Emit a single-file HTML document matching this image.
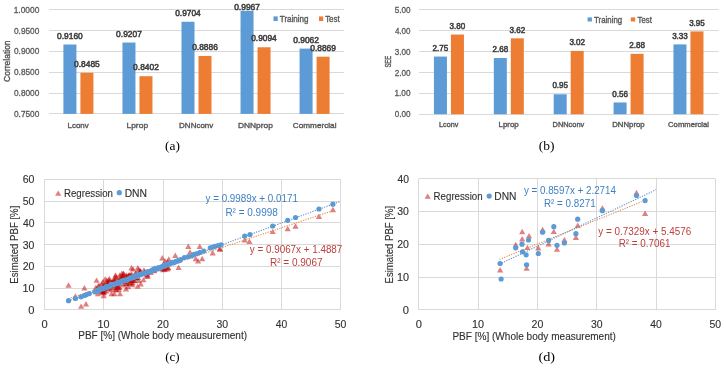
<!DOCTYPE html>
<html><head><meta charset="utf-8"><style>
html,body{margin:0;padding:0;background:#fff;width:726px;height:369px;overflow:hidden}
svg{display:block;will-change:transform}
</style></head><body>
<svg width="726" height="369" viewBox="0 0 726 369">
<defs><filter id="soft" x="0" y="0" width="100%" height="100%"><feGaussianBlur stdDeviation="0.45"/></filter></defs>
<rect width="726" height="369" fill="#fff"/>
<g filter="url(#soft)">
<rect width="726" height="369" fill="#fff"/>
<line x1="48.90" y1="9.50" x2="344.10" y2="9.50" stroke="#D9D9D9" stroke-width="1" />
<line x1="48.90" y1="30.50" x2="344.10" y2="30.50" stroke="#D9D9D9" stroke-width="1" />
<line x1="48.90" y1="51.50" x2="344.10" y2="51.50" stroke="#D9D9D9" stroke-width="1" />
<line x1="48.90" y1="72.50" x2="344.10" y2="72.50" stroke="#D9D9D9" stroke-width="1" />
<line x1="48.90" y1="93.50" x2="344.10" y2="93.50" stroke="#D9D9D9" stroke-width="1" />
<line x1="48.90" y1="113.50" x2="344.10" y2="113.50" stroke="#D9D9D9" stroke-width="1" />
<rect x="63.42" y="44.51" width="13.00" height="69.39" fill="#5B9BD5"/>
<rect x="80.42" y="72.73" width="13.00" height="41.17" fill="#ED7D31"/>
<rect x="122.46" y="42.55" width="13.00" height="71.35" fill="#5B9BD5"/>
<rect x="139.46" y="76.20" width="13.00" height="37.70" fill="#ED7D31"/>
<rect x="181.50" y="21.77" width="13.00" height="92.13" fill="#5B9BD5"/>
<rect x="198.50" y="55.97" width="13.00" height="57.93" fill="#ED7D31"/>
<rect x="240.54" y="10.78" width="13.00" height="103.12" fill="#5B9BD5"/>
<rect x="257.54" y="47.27" width="13.00" height="66.63" fill="#ED7D31"/>
<rect x="299.58" y="48.61" width="13.00" height="65.29" fill="#5B9BD5"/>
<rect x="316.58" y="56.68" width="13.00" height="57.22" fill="#ED7D31"/>
<text x="13.67" y="12.65" font-family="Liberation Sans" font-size="9.00" fill="#595959" textLength="25.65" lengthAdjust="spacingAndGlyphs"  stroke="#595959" stroke-width="0.3">1.0000</text>
<text x="13.97" y="33.55" font-family="Liberation Sans" font-size="9.00" fill="#595959" textLength="25.35" lengthAdjust="spacingAndGlyphs"  stroke="#595959" stroke-width="0.3">0.9500</text>
<text x="13.97" y="54.45" font-family="Liberation Sans" font-size="9.00" fill="#595959" textLength="25.35" lengthAdjust="spacingAndGlyphs"  stroke="#595959" stroke-width="0.3">0.9000</text>
<text x="13.97" y="75.35" font-family="Liberation Sans" font-size="9.00" fill="#595959" textLength="25.35" lengthAdjust="spacingAndGlyphs"  stroke="#595959" stroke-width="0.3">0.8500</text>
<text x="13.97" y="96.25" font-family="Liberation Sans" font-size="9.00" fill="#595959" textLength="25.35" lengthAdjust="spacingAndGlyphs"  stroke="#595959" stroke-width="0.3">0.8000</text>
<text x="13.97" y="117.15" font-family="Liberation Sans" font-size="9.00" fill="#595959" textLength="25.35" lengthAdjust="spacingAndGlyphs"  stroke="#595959" stroke-width="0.3">0.7500</text>
<text x="67.54" y="128.33" font-family="Liberation Sans" font-size="7.80" fill="#595959" textLength="21.16" lengthAdjust="spacingAndGlyphs"  stroke="#595959" stroke-width="0.38">Lconv</text>
<text x="126.48" y="128.33" font-family="Liberation Sans" font-size="7.80" fill="#595959" textLength="21.64" lengthAdjust="spacingAndGlyphs"  stroke="#595959" stroke-width="0.38">Lprop</text>
<text x="179.11" y="128.33" font-family="Liberation Sans" font-size="7.80" fill="#595959" textLength="34.17" lengthAdjust="spacingAndGlyphs"  stroke="#595959" stroke-width="0.38">DNNconv</text>
<text x="237.97" y="128.33" font-family="Liberation Sans" font-size="7.80" fill="#595959" textLength="34.83" lengthAdjust="spacingAndGlyphs"  stroke="#595959" stroke-width="0.38">DNNprop</text>
<text x="292.82" y="128.33" font-family="Liberation Sans" font-size="7.80" fill="#595959" textLength="43.68" lengthAdjust="spacingAndGlyphs"  stroke="#595959" stroke-width="0.38">Commercial</text>
<text x="57.08" y="38.69" font-family="Liberation Sans" font-size="8.80" fill="#404040" textLength="25.66" lengthAdjust="spacingAndGlyphs"  stroke="#404040" stroke-width="0.55">0.9160</text>
<text x="74.08" y="66.91" font-family="Liberation Sans" font-size="8.80" fill="#404040" textLength="25.66" lengthAdjust="spacingAndGlyphs"  stroke="#404040" stroke-width="0.55">0.8485</text>
<text x="116.12" y="36.73" font-family="Liberation Sans" font-size="8.80" fill="#404040" textLength="25.75" lengthAdjust="spacingAndGlyphs"  stroke="#404040" stroke-width="0.55">0.9207</text>
<text x="133.12" y="70.38" font-family="Liberation Sans" font-size="8.80" fill="#404040" textLength="25.75" lengthAdjust="spacingAndGlyphs"  stroke="#404040" stroke-width="0.55">0.8402</text>
<text x="175.17" y="15.95" font-family="Liberation Sans" font-size="8.80" fill="#404040" textLength="25.57" lengthAdjust="spacingAndGlyphs"  stroke="#404040" stroke-width="0.55">0.9704</text>
<text x="192.16" y="50.15" font-family="Liberation Sans" font-size="8.80" fill="#404040" textLength="25.70" lengthAdjust="spacingAndGlyphs"  stroke="#404040" stroke-width="0.55">0.8886</text>
<text x="234.20" y="9.78" font-family="Liberation Sans" font-size="8.80" fill="#404040" textLength="25.75" lengthAdjust="spacingAndGlyphs"  stroke="#404040" stroke-width="0.55">0.9967</text>
<text x="251.21" y="41.45" font-family="Liberation Sans" font-size="8.80" fill="#404040" textLength="25.57" lengthAdjust="spacingAndGlyphs"  stroke="#404040" stroke-width="0.55">0.9094</text>
<text x="293.24" y="42.79" font-family="Liberation Sans" font-size="8.80" fill="#404040" textLength="25.75" lengthAdjust="spacingAndGlyphs"  stroke="#404040" stroke-width="0.55">0.9062</text>
<text x="310.24" y="50.86" font-family="Liberation Sans" font-size="8.80" fill="#404040" textLength="25.70" lengthAdjust="spacingAndGlyphs"  stroke="#404040" stroke-width="0.55">0.8869</text>
<rect x="273.50" y="16.40" width="4.20" height="4.60" fill="#5B9BD5"/>
<text x="279.80" y="21.87" font-family="Liberation Sans" font-size="8.20" fill="#595959" textLength="28.73" lengthAdjust="spacingAndGlyphs"  stroke="#595959" stroke-width="0.35">Training</text>
<rect x="319.00" y="16.40" width="4.20" height="4.60" fill="#ED7D31"/>
<text x="325.20" y="21.87" font-family="Liberation Sans" font-size="8.20" fill="#595959" textLength="14.37" lengthAdjust="spacingAndGlyphs"  stroke="#595959" stroke-width="0.35">Test</text>
<text transform="translate(9.73,81.92) rotate(-90)" x="0" y="0" font-family="Liberation Sans" font-size="8.80" fill="#595959" font-weight="normal" textLength="41.49" lengthAdjust="spacingAndGlyphs" stroke="#595959" stroke-width="0.4">Correlation</text>
<text x="165.00" y="150.24" font-family="Liberation Serif" font-size="12.40" fill="#000000" textLength="14.91" lengthAdjust="spacingAndGlyphs" >(a)</text>
<line x1="419.00" y1="9.50" x2="718.40" y2="9.50" stroke="#D9D9D9" stroke-width="1" />
<line x1="419.00" y1="30.50" x2="718.40" y2="30.50" stroke="#D9D9D9" stroke-width="1" />
<line x1="419.00" y1="51.50" x2="718.40" y2="51.50" stroke="#D9D9D9" stroke-width="1" />
<line x1="419.00" y1="72.50" x2="718.40" y2="72.50" stroke="#D9D9D9" stroke-width="1" />
<line x1="419.00" y1="93.50" x2="718.40" y2="93.50" stroke="#D9D9D9" stroke-width="1" />
<line x1="419.00" y1="114.50" x2="718.40" y2="114.50" stroke="#D9D9D9" stroke-width="1" />
<rect x="433.94" y="56.56" width="13.00" height="57.64" fill="#5B9BD5"/>
<rect x="450.94" y="34.55" width="13.00" height="79.65" fill="#ED7D31"/>
<rect x="493.82" y="58.03" width="13.00" height="56.17" fill="#5B9BD5"/>
<rect x="510.82" y="38.32" width="13.00" height="75.88" fill="#ED7D31"/>
<rect x="553.70" y="94.29" width="13.00" height="19.91" fill="#5B9BD5"/>
<rect x="570.70" y="50.90" width="13.00" height="63.30" fill="#ED7D31"/>
<rect x="613.58" y="102.46" width="13.00" height="11.74" fill="#5B9BD5"/>
<rect x="630.58" y="53.84" width="13.00" height="60.36" fill="#ED7D31"/>
<rect x="673.46" y="44.40" width="13.00" height="69.80" fill="#5B9BD5"/>
<rect x="690.46" y="31.41" width="13.00" height="82.79" fill="#ED7D31"/>
<text x="394.78" y="12.65" font-family="Liberation Sans" font-size="9.00" fill="#595959" textLength="15.76" lengthAdjust="spacingAndGlyphs"  stroke="#595959" stroke-width="0.3">5.00</text>
<text x="394.90" y="33.61" font-family="Liberation Sans" font-size="9.00" fill="#595959" textLength="15.63" lengthAdjust="spacingAndGlyphs"  stroke="#595959" stroke-width="0.3">4.00</text>
<text x="394.78" y="54.57" font-family="Liberation Sans" font-size="9.00" fill="#595959" textLength="15.76" lengthAdjust="spacingAndGlyphs"  stroke="#595959" stroke-width="0.3">3.00</text>
<text x="394.69" y="75.53" font-family="Liberation Sans" font-size="9.00" fill="#595959" textLength="15.84" lengthAdjust="spacingAndGlyphs"  stroke="#595959" stroke-width="0.3">2.00</text>
<text x="394.48" y="96.49" font-family="Liberation Sans" font-size="9.00" fill="#595959" textLength="16.06" lengthAdjust="spacingAndGlyphs"  stroke="#595959" stroke-width="0.3">1.00</text>
<text x="394.78" y="117.45" font-family="Liberation Sans" font-size="9.00" fill="#595959" textLength="15.76" lengthAdjust="spacingAndGlyphs"  stroke="#595959" stroke-width="0.3">0.00</text>
<text x="439.01" y="127.19" font-family="Liberation Sans" font-size="7.25" fill="#595959" textLength="19.30" lengthAdjust="spacingAndGlyphs"  stroke="#595959" stroke-width="0.38">Lconv</text>
<text x="498.59" y="127.19" font-family="Liberation Sans" font-size="7.25" fill="#595959" textLength="20.17" lengthAdjust="spacingAndGlyphs"  stroke="#595959" stroke-width="0.38">Lprop</text>
<text x="552.56" y="127.19" font-family="Liberation Sans" font-size="7.25" fill="#595959" textLength="31.72" lengthAdjust="spacingAndGlyphs"  stroke="#595959" stroke-width="0.38">DNNconv</text>
<text x="612.26" y="127.19" font-family="Liberation Sans" font-size="7.25" fill="#595959" textLength="32.36" lengthAdjust="spacingAndGlyphs"  stroke="#595959" stroke-width="0.38">DNNprop</text>
<text x="668.08" y="127.19" font-family="Liberation Sans" font-size="7.25" fill="#595959" textLength="40.91" lengthAdjust="spacingAndGlyphs"  stroke="#595959" stroke-width="0.38">Commercial</text>
<text x="432.54" y="50.74" font-family="Liberation Sans" font-size="8.80" fill="#404040" textLength="15.74" lengthAdjust="spacingAndGlyphs"  stroke="#404040" stroke-width="0.55">2.75</text>
<text x="449.62" y="28.73" font-family="Liberation Sans" font-size="8.80" fill="#404040" textLength="15.65" lengthAdjust="spacingAndGlyphs"  stroke="#404040" stroke-width="0.55">3.80</text>
<text x="492.42" y="52.21" font-family="Liberation Sans" font-size="8.80" fill="#404040" textLength="15.74" lengthAdjust="spacingAndGlyphs"  stroke="#404040" stroke-width="0.55">2.68</text>
<text x="509.50" y="32.50" font-family="Liberation Sans" font-size="8.80" fill="#404040" textLength="15.74" lengthAdjust="spacingAndGlyphs"  stroke="#404040" stroke-width="0.55">3.62</text>
<text x="552.38" y="88.47" font-family="Liberation Sans" font-size="8.80" fill="#404040" textLength="15.65" lengthAdjust="spacingAndGlyphs"  stroke="#404040" stroke-width="0.55">0.95</text>
<text x="569.38" y="45.08" font-family="Liberation Sans" font-size="8.80" fill="#404040" textLength="15.74" lengthAdjust="spacingAndGlyphs"  stroke="#404040" stroke-width="0.55">3.02</text>
<text x="612.26" y="96.64" font-family="Liberation Sans" font-size="8.80" fill="#404040" textLength="15.70" lengthAdjust="spacingAndGlyphs"  stroke="#404040" stroke-width="0.55">0.56</text>
<text x="629.18" y="48.02" font-family="Liberation Sans" font-size="8.80" fill="#404040" textLength="15.74" lengthAdjust="spacingAndGlyphs"  stroke="#404040" stroke-width="0.55">2.88</text>
<text x="672.14" y="38.58" font-family="Liberation Sans" font-size="8.80" fill="#404040" textLength="15.70" lengthAdjust="spacingAndGlyphs"  stroke="#404040" stroke-width="0.55">3.33</text>
<text x="689.14" y="25.59" font-family="Liberation Sans" font-size="8.80" fill="#404040" textLength="15.65" lengthAdjust="spacingAndGlyphs"  stroke="#404040" stroke-width="0.55">3.95</text>
<rect x="587.60" y="17.40" width="4.30" height="4.10" fill="#5B9BD5"/>
<text x="594.10" y="22.67" font-family="Liberation Sans" font-size="8.20" fill="#595959" textLength="28.11" lengthAdjust="spacingAndGlyphs"  stroke="#595959" stroke-width="0.35">Training</text>
<rect x="630.80" y="17.40" width="4.40" height="4.10" fill="#ED7D31"/>
<text x="637.61" y="22.67" font-family="Liberation Sans" font-size="8.20" fill="#595959" textLength="14.26" lengthAdjust="spacingAndGlyphs"  stroke="#595959" stroke-width="0.35">Test</text>
<text transform="translate(391.33,67.57) rotate(-90)" x="0" y="0" font-family="Liberation Sans" font-size="8.80" fill="#595959" font-weight="normal" textLength="11.81" lengthAdjust="spacingAndGlyphs" stroke="#595959" stroke-width="0.4">SEE</text>
<text x="538.79" y="150.24" font-family="Liberation Serif" font-size="12.40" fill="#000000" textLength="15.76" lengthAdjust="spacingAndGlyphs" >(b)</text>
<line x1="44.60" y1="309.50" x2="340.60" y2="309.50" stroke="#D9D9D9" stroke-width="1" />
<line x1="44.60" y1="288.50" x2="340.60" y2="288.50" stroke="#D9D9D9" stroke-width="1" />
<line x1="44.60" y1="266.50" x2="340.60" y2="266.50" stroke="#D9D9D9" stroke-width="1" />
<line x1="44.60" y1="244.50" x2="340.60" y2="244.50" stroke="#D9D9D9" stroke-width="1" />
<line x1="44.60" y1="222.50" x2="340.60" y2="222.50" stroke="#D9D9D9" stroke-width="1" />
<line x1="44.60" y1="201.50" x2="340.60" y2="201.50" stroke="#D9D9D9" stroke-width="1" />
<line x1="44.60" y1="179.50" x2="340.60" y2="179.50" stroke="#D9D9D9" stroke-width="1" />
<line x1="44.50" y1="179.50" x2="44.50" y2="309.80" stroke="#D9D9D9" stroke-width="1" />
<line x1="103.50" y1="179.50" x2="103.50" y2="309.80" stroke="#D9D9D9" stroke-width="1" />
<line x1="163.50" y1="179.50" x2="163.50" y2="309.80" stroke="#D9D9D9" stroke-width="1" />
<line x1="222.50" y1="179.50" x2="222.50" y2="309.80" stroke="#D9D9D9" stroke-width="1" />
<line x1="281.50" y1="179.50" x2="281.50" y2="309.80" stroke="#D9D9D9" stroke-width="1" />
<line x1="340.50" y1="179.50" x2="340.50" y2="309.80" stroke="#D9D9D9" stroke-width="1" />
<line x1="418.90" y1="309.50" x2="715.30" y2="309.50" stroke="#D9D9D9" stroke-width="1" />
<line x1="418.90" y1="277.50" x2="715.30" y2="277.50" stroke="#D9D9D9" stroke-width="1" />
<line x1="418.90" y1="244.50" x2="715.30" y2="244.50" stroke="#D9D9D9" stroke-width="1" />
<line x1="418.90" y1="211.50" x2="715.30" y2="211.50" stroke="#D9D9D9" stroke-width="1" />
<line x1="418.90" y1="178.50" x2="715.30" y2="178.50" stroke="#D9D9D9" stroke-width="1" />
<line x1="418.50" y1="178.80" x2="418.50" y2="309.90" stroke="#D9D9D9" stroke-width="1" />
<line x1="478.50" y1="178.80" x2="478.50" y2="309.90" stroke="#D9D9D9" stroke-width="1" />
<line x1="537.50" y1="178.80" x2="537.50" y2="309.90" stroke="#D9D9D9" stroke-width="1" />
<line x1="596.50" y1="178.80" x2="596.50" y2="309.90" stroke="#D9D9D9" stroke-width="1" />
<line x1="656.50" y1="178.80" x2="656.50" y2="309.90" stroke="#D9D9D9" stroke-width="1" />
<line x1="715.50" y1="178.80" x2="715.50" y2="309.90" stroke="#D9D9D9" stroke-width="1" />
<text x="28.25" y="313.72" font-family="Liberation Sans" font-size="11.20" fill="#303030" textLength="6.21" lengthAdjust="spacingAndGlyphs"  stroke="#303030" stroke-width="0.12">0</text>
<text x="22.39" y="292.00" font-family="Liberation Sans" font-size="11.20" fill="#303030" textLength="12.07" lengthAdjust="spacingAndGlyphs"  stroke="#303030" stroke-width="0.12">10</text>
<text x="22.67" y="270.29" font-family="Liberation Sans" font-size="11.20" fill="#303030" textLength="11.78" lengthAdjust="spacingAndGlyphs"  stroke="#303030" stroke-width="0.12">20</text>
<text x="22.78" y="248.57" font-family="Liberation Sans" font-size="11.20" fill="#303030" textLength="11.66" lengthAdjust="spacingAndGlyphs"  stroke="#303030" stroke-width="0.12">30</text>
<text x="22.94" y="226.85" font-family="Liberation Sans" font-size="11.20" fill="#303030" textLength="11.50" lengthAdjust="spacingAndGlyphs"  stroke="#303030" stroke-width="0.12">40</text>
<text x="22.78" y="205.14" font-family="Liberation Sans" font-size="11.20" fill="#303030" textLength="11.66" lengthAdjust="spacingAndGlyphs"  stroke="#303030" stroke-width="0.12">50</text>
<text x="22.67" y="183.42" font-family="Liberation Sans" font-size="11.20" fill="#303030" textLength="11.78" lengthAdjust="spacingAndGlyphs"  stroke="#303030" stroke-width="0.12">60</text>
<text x="41.50" y="327.72" font-family="Liberation Sans" font-size="11.20" fill="#303030" textLength="6.21" lengthAdjust="spacingAndGlyphs"  stroke="#303030" stroke-width="0.12">0</text>
<text x="97.59" y="327.72" font-family="Liberation Sans" font-size="11.20" fill="#303030" textLength="12.07" lengthAdjust="spacingAndGlyphs"  stroke="#303030" stroke-width="0.12">10</text>
<text x="157.07" y="327.72" font-family="Liberation Sans" font-size="11.20" fill="#303030" textLength="11.78" lengthAdjust="spacingAndGlyphs"  stroke="#303030" stroke-width="0.12">20</text>
<text x="216.38" y="327.72" font-family="Liberation Sans" font-size="11.20" fill="#303030" textLength="11.66" lengthAdjust="spacingAndGlyphs"  stroke="#303030" stroke-width="0.12">30</text>
<text x="275.74" y="327.72" font-family="Liberation Sans" font-size="11.20" fill="#303030" textLength="11.50" lengthAdjust="spacingAndGlyphs"  stroke="#303030" stroke-width="0.12">40</text>
<text x="334.78" y="327.72" font-family="Liberation Sans" font-size="11.20" fill="#303030" textLength="11.66" lengthAdjust="spacingAndGlyphs"  stroke="#303030" stroke-width="0.12">50</text>
<text x="402.75" y="313.82" font-family="Liberation Sans" font-size="11.20" fill="#303030" textLength="6.21" lengthAdjust="spacingAndGlyphs"  stroke="#303030" stroke-width="0.12">0</text>
<text x="396.89" y="281.05" font-family="Liberation Sans" font-size="11.20" fill="#303030" textLength="12.07" lengthAdjust="spacingAndGlyphs"  stroke="#303030" stroke-width="0.12">10</text>
<text x="397.17" y="248.27" font-family="Liberation Sans" font-size="11.20" fill="#303030" textLength="11.78" lengthAdjust="spacingAndGlyphs"  stroke="#303030" stroke-width="0.12">20</text>
<text x="397.28" y="215.49" font-family="Liberation Sans" font-size="11.20" fill="#303030" textLength="11.66" lengthAdjust="spacingAndGlyphs"  stroke="#303030" stroke-width="0.12">30</text>
<text x="397.44" y="182.72" font-family="Liberation Sans" font-size="11.20" fill="#303030" textLength="11.50" lengthAdjust="spacingAndGlyphs"  stroke="#303030" stroke-width="0.12">40</text>
<text x="415.80" y="327.72" font-family="Liberation Sans" font-size="11.20" fill="#303030" textLength="6.21" lengthAdjust="spacingAndGlyphs"  stroke="#303030" stroke-width="0.12">0</text>
<text x="471.97" y="327.72" font-family="Liberation Sans" font-size="11.20" fill="#303030" textLength="12.07" lengthAdjust="spacingAndGlyphs"  stroke="#303030" stroke-width="0.12">10</text>
<text x="531.53" y="327.72" font-family="Liberation Sans" font-size="11.20" fill="#303030" textLength="11.78" lengthAdjust="spacingAndGlyphs"  stroke="#303030" stroke-width="0.12">20</text>
<text x="590.92" y="327.72" font-family="Liberation Sans" font-size="11.20" fill="#303030" textLength="11.66" lengthAdjust="spacingAndGlyphs"  stroke="#303030" stroke-width="0.12">30</text>
<text x="650.36" y="327.72" font-family="Liberation Sans" font-size="11.20" fill="#303030" textLength="11.50" lengthAdjust="spacingAndGlyphs"  stroke="#303030" stroke-width="0.12">40</text>
<text x="709.48" y="327.72" font-family="Liberation Sans" font-size="11.20" fill="#303030" textLength="11.66" lengthAdjust="spacingAndGlyphs"  stroke="#303030" stroke-width="0.12">50</text>
<text x="78.20" y="338.72" font-family="Liberation Sans" font-size="11.20" fill="#303030" textLength="168.86" lengthAdjust="spacingAndGlyphs"  stroke="#303030" stroke-width="0.12">PBF [%] (Whole body meausurement)</text>
<text x="452.40" y="339.52" font-family="Liberation Sans" font-size="11.20" fill="#303030" textLength="163.55" lengthAdjust="spacingAndGlyphs"  stroke="#303030" stroke-width="0.12">PBF [%] (Whole body measurement)</text>
<text transform="translate(17.77,283.67) rotate(-90)" x="0" y="0" font-family="Liberation Sans" font-size="11.20" fill="#303030" font-weight="normal" textLength="77.98" lengthAdjust="spacingAndGlyphs" stroke="#303030" stroke-width="0.12">Esimated PBF [%]</text>
<text transform="translate(392.97,283.47) rotate(-90)" x="0" y="0" font-family="Liberation Sans" font-size="11.20" fill="#303030" font-weight="normal" textLength="77.67" lengthAdjust="spacingAndGlyphs" stroke="#303030" stroke-width="0.12">Esimated PBF [%]</text>
<text x="165.21" y="361.34" font-family="Liberation Serif" font-size="12.40" fill="#000000" textLength="14.47" lengthAdjust="spacingAndGlyphs" >(c)</text>
<text x="538.46" y="360.94" font-family="Liberation Serif" font-size="12.40" fill="#000000" textLength="16.63" lengthAdjust="spacingAndGlyphs" >(d)</text>
<path d="M55.10,195.80L58.20,190.40L61.30,195.80Z" fill="rgba(192,0,0,0.5)"/>
<text x="63.92" y="196.62" font-family="Liberation Sans" font-size="11.20" fill="#303030" textLength="49.04" lengthAdjust="spacingAndGlyphs"  stroke="#303030" stroke-width="0.12">Regression</text>
<circle cx="119.30" cy="192.70" r="2.6" fill="#5B9BD5"/>
<text x="124.67" y="196.62" font-family="Liberation Sans" font-size="11.20" fill="#303030" textLength="22.37" lengthAdjust="spacingAndGlyphs"  stroke="#303030" stroke-width="0.12">DNN</text>
<path d="M424.60,198.80L427.70,193.40L430.80,198.80Z" fill="rgba(192,0,0,0.5)"/>
<text x="433.62" y="199.72" font-family="Liberation Sans" font-size="11.20" fill="#303030" textLength="49.04" lengthAdjust="spacingAndGlyphs"  stroke="#303030" stroke-width="0.12">Regression</text>
<circle cx="489.20" cy="196.10" r="2.6" fill="#5B9BD5"/>
<text x="494.28" y="199.72" font-family="Liberation Sans" font-size="11.20" fill="#303030" textLength="22.15" lengthAdjust="spacingAndGlyphs"  stroke="#303030" stroke-width="0.12">DNN</text>
<path d="M497.00,272.40L500.10,267.00L503.20,272.40Z" fill="rgba(192,0,0,0.5)"/>
<path d="M512.60,247.20L515.70,241.80L518.80,247.20Z" fill="rgba(192,0,0,0.5)"/>
<path d="M519.10,234.20L522.20,228.80L525.30,234.20Z" fill="rgba(192,0,0,0.5)"/>
<path d="M519.10,241.50L522.20,236.10L525.30,241.50Z" fill="rgba(192,0,0,0.5)"/>
<path d="M525.90,238.30L529.00,232.90L532.10,238.30Z" fill="rgba(192,0,0,0.5)"/>
<path d="M524.30,250.10L527.40,244.70L530.50,250.10Z" fill="rgba(192,0,0,0.5)"/>
<path d="M523.50,270.80L526.60,265.40L529.70,270.80Z" fill="rgba(192,0,0,0.5)"/>
<path d="M535.20,250.50L538.30,245.10L541.40,250.50Z" fill="rgba(192,0,0,0.5)"/>
<path d="M539.50,232.20L542.60,226.80L545.70,232.20Z" fill="rgba(192,0,0,0.5)"/>
<path d="M545.50,246.40L548.60,241.00L551.70,246.40Z" fill="rgba(192,0,0,0.5)"/>
<path d="M550.70,234.10L553.80,228.70L556.90,234.10Z" fill="rgba(192,0,0,0.5)"/>
<path d="M553.90,251.80L557.00,246.40L560.10,251.80Z" fill="rgba(192,0,0,0.5)"/>
<path d="M561.30,242.30L564.40,236.90L567.50,242.30Z" fill="rgba(192,0,0,0.5)"/>
<path d="M572.80,240.00L575.90,234.60L579.00,240.00Z" fill="rgba(192,0,0,0.5)"/>
<path d="M574.60,228.00L577.70,222.60L580.80,228.00Z" fill="rgba(192,0,0,0.5)"/>
<path d="M599.30,210.60L602.40,205.20L605.50,210.60Z" fill="rgba(192,0,0,0.5)"/>
<path d="M633.40,195.20L636.50,189.80L639.60,195.20Z" fill="rgba(192,0,0,0.5)"/>
<path d="M642.00,215.90L645.10,210.50L648.20,215.90Z" fill="rgba(192,0,0,0.5)"/>
<line x1="499.52" y1="259.34" x2="641.79" y2="201.69" stroke="#EE8A4A" stroke-width="1.1" stroke-dasharray="1.2,1.3"/>
<circle cx="500.10" cy="263.50" r="2.6" fill="#5B9BD5"/>
<circle cx="501.10" cy="279.00" r="2.6" fill="#5B9BD5"/>
<circle cx="515.70" cy="247.80" r="2.6" fill="#5B9BD5"/>
<circle cx="522.00" cy="244.20" r="2.6" fill="#5B9BD5"/>
<circle cx="522.50" cy="251.80" r="2.6" fill="#5B9BD5"/>
<circle cx="526.10" cy="254.80" r="2.6" fill="#5B9BD5"/>
<circle cx="526.60" cy="264.80" r="2.6" fill="#5B9BD5"/>
<circle cx="528.50" cy="240.00" r="2.6" fill="#5B9BD5"/>
<circle cx="538.30" cy="253.50" r="2.6" fill="#5B9BD5"/>
<circle cx="542.60" cy="232.20" r="2.6" fill="#5B9BD5"/>
<circle cx="548.60" cy="240.40" r="2.6" fill="#5B9BD5"/>
<circle cx="553.80" cy="226.70" r="2.6" fill="#5B9BD5"/>
<circle cx="557.00" cy="245.30" r="2.6" fill="#5B9BD5"/>
<circle cx="564.40" cy="243.00" r="2.6" fill="#5B9BD5"/>
<circle cx="575.90" cy="233.70" r="2.6" fill="#5B9BD5"/>
<circle cx="577.70" cy="219.20" r="2.6" fill="#5B9BD5"/>
<circle cx="602.40" cy="210.70" r="2.6" fill="#5B9BD5"/>
<circle cx="636.50" cy="195.50" r="2.6" fill="#5B9BD5"/>
<circle cx="645.10" cy="200.60" r="2.6" fill="#5B9BD5"/>
<line x1="501.89" y1="263.01" x2="656.02" y2="189.75" stroke="#5A92CC" stroke-width="1.1" stroke-dasharray="1.2,1.3"/>
<text x="523.95" y="194.22" font-family="Liberation Sans" font-size="11.20" fill="#3D7FC2" textLength="91.96" lengthAdjust="spacingAndGlyphs" >y = 0.8597x + 2.2714</text>
<text x="543.91" y="207.22" font-family="Liberation Sans" font-size="11.20" fill="#3D7FC2" textLength="51.71" lengthAdjust="spacingAndGlyphs" >R² = 0.8271</text>
<text x="598.25" y="234.62" font-family="Liberation Sans" font-size="11.20" fill="#BC3F3B" textLength="93.01" lengthAdjust="spacingAndGlyphs" >y = 0.7329x + 5.4576</text>
<text x="618.71" y="247.32" font-family="Liberation Sans" font-size="11.20" fill="#BC3F3B" textLength="51.82" lengthAdjust="spacingAndGlyphs" >R² = 0.7061</text>
<path d="M65.40,287.70L68.50,282.30L71.60,287.70Z" fill="rgba(192,0,0,0.5)"/>
<path d="M72.30,298.70L75.40,293.30L78.50,298.70Z" fill="rgba(192,0,0,0.5)"/>
<path d="M78.00,308.80L81.10,303.40L84.20,308.80Z" fill="rgba(192,0,0,0.5)"/>
<path d="M82.90,306.40L86.00,301.00L89.10,306.40Z" fill="rgba(192,0,0,0.5)"/>
<path d="M81.30,290.40L84.40,285.00L87.50,290.40Z" fill="rgba(192,0,0,0.5)"/>
<path d="M93.50,282.80L96.60,277.40L99.70,282.80Z" fill="rgba(192,0,0,0.5)"/>
<path d="M92.70,290.10L95.80,284.70L98.90,290.10Z" fill="rgba(192,0,0,0.5)"/>
<path d="M185.20,249.00L188.30,243.60L191.40,249.00Z" fill="rgba(192,0,0,0.5)"/>
<path d="M196.60,249.00L199.70,243.60L202.80,249.00Z" fill="rgba(192,0,0,0.5)"/>
<path d="M186.90,254.70L190.00,249.30L193.10,254.70Z" fill="rgba(192,0,0,0.5)"/>
<path d="M172.20,257.90L175.30,252.50L178.40,257.90Z" fill="rgba(192,0,0,0.5)"/>
<path d="M165.70,261.70L168.80,256.30L171.90,261.70Z" fill="rgba(192,0,0,0.5)"/>
<path d="M175.50,270.10L178.60,264.70L181.70,270.10Z" fill="rgba(192,0,0,0.5)"/>
<path d="M192.60,261.20L195.70,255.80L198.80,261.20Z" fill="rgba(192,0,0,0.5)"/>
<path d="M199.10,261.20L202.20,255.80L205.30,261.20Z" fill="rgba(192,0,0,0.5)"/>
<path d="M195.00,263.60L198.10,258.20L201.20,263.60Z" fill="rgba(192,0,0,0.5)"/>
<path d="M209.60,255.50L212.70,250.10L215.80,255.50Z" fill="rgba(192,0,0,0.5)"/>
<path d="M216.70,251.50L219.80,246.10L222.90,251.50Z" fill="rgba(192,0,0,0.5)"/>
<path d="M241.60,242.40L244.70,237.00L247.80,242.40Z" fill="rgba(192,0,0,0.5)"/>
<path d="M246.30,243.90L249.40,238.50L252.50,243.90Z" fill="rgba(192,0,0,0.5)"/>
<path d="M269.60,234.10L272.70,228.70L275.80,234.10Z" fill="rgba(192,0,0,0.5)"/>
<path d="M284.60,231.20L287.70,225.80L290.80,231.20Z" fill="rgba(192,0,0,0.5)"/>
<path d="M292.40,228.70L295.50,223.30L298.60,228.70Z" fill="rgba(192,0,0,0.5)"/>
<path d="M315.90,218.90L319.00,213.50L322.10,218.90Z" fill="rgba(192,0,0,0.5)"/>
<path d="M329.80,212.20L332.90,206.80L336.00,212.20Z" fill="rgba(192,0,0,0.5)"/>
<path d="M216.90,251.50L220.00,246.10L223.10,251.50Z" fill="rgba(192,0,0,0.5)"/>
<path d="M100.90,295.28L104.00,289.88L107.10,295.28Z" fill="rgba(192,0,0,0.5)"/>
<path d="M112.72,291.69L115.82,286.29L118.92,291.69Z" fill="rgba(192,0,0,0.5)"/>
<path d="M128.28,280.86L131.38,275.46L134.48,280.86Z" fill="rgba(192,0,0,0.5)"/>
<path d="M137.33,273.13L140.43,267.73L143.53,273.13Z" fill="rgba(192,0,0,0.5)"/>
<path d="M151.48,270.60L154.58,265.20L157.68,270.60Z" fill="rgba(192,0,0,0.5)"/>
<path d="M115.19,284.12L118.29,278.72L121.39,284.12Z" fill="rgba(192,0,0,0.5)"/>
<path d="M123.03,281.12L126.13,275.72L129.23,281.12Z" fill="rgba(192,0,0,0.5)"/>
<path d="M130.61,278.72L133.71,273.32L136.81,278.72Z" fill="rgba(192,0,0,0.5)"/>
<path d="M123.94,286.24L127.04,280.84L130.14,286.24Z" fill="rgba(192,0,0,0.5)"/>
<path d="M113.76,287.89L116.86,282.49L119.96,287.89Z" fill="rgba(192,0,0,0.5)"/>
<path d="M159.20,260.45L162.30,255.05L165.40,260.45Z" fill="rgba(192,0,0,0.5)"/>
<path d="M109.29,283.84L112.39,278.44L115.49,283.84Z" fill="rgba(192,0,0,0.5)"/>
<path d="M137.46,274.19L140.56,268.79L143.66,274.19Z" fill="rgba(192,0,0,0.5)"/>
<path d="M122.40,285.89L125.50,280.49L128.60,285.89Z" fill="rgba(192,0,0,0.5)"/>
<path d="M159.49,268.08L162.59,262.68L165.69,268.08Z" fill="rgba(192,0,0,0.5)"/>
<path d="M143.86,275.22L146.96,269.82L150.06,275.22Z" fill="rgba(192,0,0,0.5)"/>
<path d="M140.85,272.66L143.95,267.26L147.05,272.66Z" fill="rgba(192,0,0,0.5)"/>
<path d="M123.33,282.28L126.43,276.88L129.53,282.28Z" fill="rgba(192,0,0,0.5)"/>
<path d="M120.25,275.94L123.35,270.54L126.45,275.94Z" fill="rgba(192,0,0,0.5)"/>
<path d="M107.92,287.13L111.02,281.73L114.12,287.13Z" fill="rgba(192,0,0,0.5)"/>
<path d="M120.83,282.09L123.93,276.69L127.03,282.09Z" fill="rgba(192,0,0,0.5)"/>
<path d="M104.51,290.98L107.61,285.58L110.71,290.98Z" fill="rgba(192,0,0,0.5)"/>
<path d="M116.97,279.92L120.07,274.52L123.17,279.92Z" fill="rgba(192,0,0,0.5)"/>
<path d="M129.94,282.49L133.04,277.09L136.14,282.49Z" fill="rgba(192,0,0,0.5)"/>
<path d="M118.81,275.85L121.91,270.45L125.01,275.85Z" fill="rgba(192,0,0,0.5)"/>
<path d="M108.68,284.68L111.78,279.28L114.88,284.68Z" fill="rgba(192,0,0,0.5)"/>
<path d="M106.71,283.78L109.81,278.38L112.91,283.78Z" fill="rgba(192,0,0,0.5)"/>
<path d="M96.24,288.06L99.34,282.66L102.44,288.06Z" fill="rgba(192,0,0,0.5)"/>
<path d="M113.01,284.93L116.11,279.53L119.21,284.93Z" fill="rgba(192,0,0,0.5)"/>
<path d="M100.12,288.08L103.22,282.68L106.32,288.08Z" fill="rgba(192,0,0,0.5)"/>
<path d="M116.70,284.00L119.80,278.60L122.90,284.00Z" fill="rgba(192,0,0,0.5)"/>
<path d="M134.58,288.82L137.68,283.42L140.78,288.82Z" fill="rgba(192,0,0,0.5)"/>
<path d="M125.00,289.27L128.10,283.87L131.20,289.27Z" fill="rgba(192,0,0,0.5)"/>
<path d="M99.77,284.50L102.87,279.10L105.97,284.50Z" fill="rgba(192,0,0,0.5)"/>
<path d="M134.72,270.44L137.82,265.04L140.92,270.44Z" fill="rgba(192,0,0,0.5)"/>
<path d="M111.30,296.34L114.40,290.94L117.50,296.34Z" fill="rgba(192,0,0,0.5)"/>
<path d="M144.01,276.97L147.11,271.57L150.21,276.97Z" fill="rgba(192,0,0,0.5)"/>
<path d="M107.38,286.39L110.48,280.99L113.58,286.39Z" fill="rgba(192,0,0,0.5)"/>
<path d="M124.77,282.31L127.87,276.91L130.97,282.31Z" fill="rgba(192,0,0,0.5)"/>
<path d="M112.47,277.58L115.57,272.18L118.67,277.58Z" fill="rgba(192,0,0,0.5)"/>
<path d="M111.15,283.50L114.25,278.10L117.35,283.50Z" fill="rgba(192,0,0,0.5)"/>
<path d="M123.79,280.59L126.89,275.19L129.99,280.59Z" fill="rgba(192,0,0,0.5)"/>
<path d="M126.47,285.80L129.57,280.40L132.67,285.80Z" fill="rgba(192,0,0,0.5)"/>
<path d="M122.75,283.70L125.85,278.30L128.95,283.70Z" fill="rgba(192,0,0,0.5)"/>
<path d="M111.71,281.23L114.81,275.83L117.91,281.23Z" fill="rgba(192,0,0,0.5)"/>
<path d="M120.32,279.32L123.42,273.92L126.52,279.32Z" fill="rgba(192,0,0,0.5)"/>
<path d="M123.61,278.93L126.71,273.53L129.81,278.93Z" fill="rgba(192,0,0,0.5)"/>
<path d="M165.01,270.57L168.11,265.17L171.21,270.57Z" fill="rgba(192,0,0,0.5)"/>
<path d="M116.58,284.11L119.68,278.71L122.78,284.11Z" fill="rgba(192,0,0,0.5)"/>
<path d="M153.43,271.47L156.53,266.07L159.63,271.47Z" fill="rgba(192,0,0,0.5)"/>
<path d="M112.98,292.48L116.08,287.08L119.18,292.48Z" fill="rgba(192,0,0,0.5)"/>
<path d="M116.50,282.60L119.60,277.20L122.70,282.60Z" fill="rgba(192,0,0,0.5)"/>
<path d="M113.70,286.01L116.80,280.61L119.90,286.01Z" fill="rgba(192,0,0,0.5)"/>
<path d="M122.90,291.48L126.00,286.08L129.10,291.48Z" fill="rgba(192,0,0,0.5)"/>
<path d="M100.61,298.18L103.71,292.78L106.81,298.18Z" fill="rgba(192,0,0,0.5)"/>
<path d="M141.67,274.53L144.77,269.13L147.87,274.53Z" fill="rgba(192,0,0,0.5)"/>
<path d="M98.69,286.38L101.79,280.98L104.89,286.38Z" fill="rgba(192,0,0,0.5)"/>
<path d="M132.98,275.85L136.08,270.45L139.18,275.85Z" fill="rgba(192,0,0,0.5)"/>
<path d="M160.84,269.96L163.94,264.56L167.04,269.96Z" fill="rgba(192,0,0,0.5)"/>
<path d="M98.60,294.36L101.70,288.96L104.80,294.36Z" fill="rgba(192,0,0,0.5)"/>
<path d="M127.85,282.83L130.95,277.43L134.05,282.83Z" fill="rgba(192,0,0,0.5)"/>
<path d="M134.23,277.33L137.33,271.93L140.43,277.33Z" fill="rgba(192,0,0,0.5)"/>
<path d="M116.68,277.59L119.78,272.19L122.88,277.59Z" fill="rgba(192,0,0,0.5)"/>
<path d="M106.42,281.47L109.52,276.07L112.62,281.47Z" fill="rgba(192,0,0,0.5)"/>
<path d="M129.91,271.60L133.01,266.20L136.11,271.60Z" fill="rgba(192,0,0,0.5)"/>
<path d="M125.30,282.85L128.40,277.45L131.50,282.85Z" fill="rgba(192,0,0,0.5)"/>
<path d="M104.88,284.87L107.98,279.47L111.08,284.87Z" fill="rgba(192,0,0,0.5)"/>
<path d="M140.31,282.28L143.41,276.88L146.51,282.28Z" fill="rgba(192,0,0,0.5)"/>
<path d="M110.35,284.22L113.45,278.82L116.55,284.22Z" fill="rgba(192,0,0,0.5)"/>
<path d="M129.29,287.28L132.39,281.88L135.49,287.28Z" fill="rgba(192,0,0,0.5)"/>
<path d="M125.51,282.41L128.61,277.01L131.71,282.41Z" fill="rgba(192,0,0,0.5)"/>
<path d="M101.96,288.09L105.06,282.69L108.16,288.09Z" fill="rgba(192,0,0,0.5)"/>
<path d="M95.22,288.27L98.32,282.87L101.42,288.27Z" fill="rgba(192,0,0,0.5)"/>
<path d="M101.98,281.54L105.08,276.14L108.18,281.54Z" fill="rgba(192,0,0,0.5)"/>
<path d="M143.13,274.83L146.23,269.43L149.33,274.83Z" fill="rgba(192,0,0,0.5)"/>
<path d="M126.10,280.63L129.20,275.23L132.30,280.63Z" fill="rgba(192,0,0,0.5)"/>
<path d="M101.77,290.82L104.87,285.42L107.97,290.82Z" fill="rgba(192,0,0,0.5)"/>
<path d="M125.17,278.29L128.27,272.89L131.37,278.29Z" fill="rgba(192,0,0,0.5)"/>
<path d="M126.50,279.46L129.60,274.06L132.70,279.46Z" fill="rgba(192,0,0,0.5)"/>
<path d="M103.78,282.70L106.88,277.30L109.98,282.70Z" fill="rgba(192,0,0,0.5)"/>
<path d="M120.03,287.49L123.13,282.09L126.23,287.49Z" fill="rgba(192,0,0,0.5)"/>
<path d="M164.10,271.49L167.20,266.09L170.30,271.49Z" fill="rgba(192,0,0,0.5)"/>
<path d="M119.19,278.74L122.29,273.34L125.39,278.74Z" fill="rgba(192,0,0,0.5)"/>
<path d="M131.09,279.14L134.19,273.74L137.29,279.14Z" fill="rgba(192,0,0,0.5)"/>
<path d="M119.01,280.36L122.11,274.96L125.21,280.36Z" fill="rgba(192,0,0,0.5)"/>
<path d="M107.66,292.24L110.76,286.84L113.86,292.24Z" fill="rgba(192,0,0,0.5)"/>
<path d="M114.32,289.39L117.42,283.99L120.52,289.39Z" fill="rgba(192,0,0,0.5)"/>
<path d="M161.93,263.61L165.03,258.21L168.13,263.61Z" fill="rgba(192,0,0,0.5)"/>
<path d="M132.35,275.78L135.45,270.38L138.55,275.78Z" fill="rgba(192,0,0,0.5)"/>
<path d="M126.05,277.58L129.15,272.18L132.25,277.58Z" fill="rgba(192,0,0,0.5)"/>
<path d="M105.70,282.28L108.80,276.88L111.90,282.28Z" fill="rgba(192,0,0,0.5)"/>
<path d="M143.60,278.77L146.70,273.37L149.80,278.77Z" fill="rgba(192,0,0,0.5)"/>
<path d="M120.61,276.28L123.71,270.88L126.81,276.28Z" fill="rgba(192,0,0,0.5)"/>
<path d="M150.97,273.25L154.07,267.85L157.17,273.25Z" fill="rgba(192,0,0,0.5)"/>
<path d="M165.01,270.10L168.11,264.70L171.21,270.10Z" fill="rgba(192,0,0,0.5)"/>
<path d="M146.63,273.67L149.73,268.27L152.83,273.67Z" fill="rgba(192,0,0,0.5)"/>
<path d="M159.84,272.31L162.94,266.91L166.04,272.31Z" fill="rgba(192,0,0,0.5)"/>
<path d="M128.13,278.13L131.23,272.73L134.33,278.13Z" fill="rgba(192,0,0,0.5)"/>
<path d="M115.76,289.56L118.86,284.16L121.96,289.56Z" fill="rgba(192,0,0,0.5)"/>
<path d="M115.76,286.04L118.86,280.64L121.96,286.04Z" fill="rgba(192,0,0,0.5)"/>
<path d="M131.54,283.21L134.64,277.81L137.74,283.21Z" fill="rgba(192,0,0,0.5)"/>
<path d="M137.06,274.37L140.16,268.97L143.26,274.37Z" fill="rgba(192,0,0,0.5)"/>
<path d="M128.65,276.72L131.75,271.32L134.85,276.72Z" fill="rgba(192,0,0,0.5)"/>
<path d="M144.79,278.56L147.89,273.16L150.99,278.56Z" fill="rgba(192,0,0,0.5)"/>
<path d="M127.94,279.57L131.04,274.17L134.14,279.57Z" fill="rgba(192,0,0,0.5)"/>
<path d="M132.25,279.91L135.35,274.51L138.45,279.91Z" fill="rgba(192,0,0,0.5)"/>
<path d="M147.59,275.03L150.69,269.63L153.79,275.03Z" fill="rgba(192,0,0,0.5)"/>
<path d="M161.70,266.73L164.80,261.33L167.90,266.73Z" fill="rgba(192,0,0,0.5)"/>
<path d="M137.67,286.49L140.77,281.09L143.87,286.49Z" fill="rgba(192,0,0,0.5)"/>
<path d="M104.48,289.61L107.58,284.21L110.68,289.61Z" fill="rgba(192,0,0,0.5)"/>
<path d="M113.31,280.25L116.41,274.85L119.51,280.25Z" fill="rgba(192,0,0,0.5)"/>
<path d="M110.18,284.66L113.28,279.26L116.38,284.66Z" fill="rgba(192,0,0,0.5)"/>
<path d="M94.93,292.08L98.03,286.68L101.13,292.08Z" fill="rgba(192,0,0,0.5)"/>
<path d="M108.43,296.34L111.53,290.94L114.63,296.34Z" fill="rgba(192,0,0,0.5)"/>
<path d="M135.54,272.37L138.64,266.97L141.74,272.37Z" fill="rgba(192,0,0,0.5)"/>
<path d="M125.19,278.12L128.29,272.72L131.39,278.12Z" fill="rgba(192,0,0,0.5)"/>
<path d="M161.70,271.73L164.80,266.33L167.90,271.73Z" fill="rgba(192,0,0,0.5)"/>
<path d="M115.70,291.89L118.80,286.49L121.90,291.89Z" fill="rgba(192,0,0,0.5)"/>
<path d="M123.73,281.51L126.83,276.11L129.93,281.51Z" fill="rgba(192,0,0,0.5)"/>
<path d="M108.49,290.52L111.59,285.12L114.69,290.52Z" fill="rgba(192,0,0,0.5)"/>
<path d="M108.43,288.40L111.53,283.00L114.63,288.40Z" fill="rgba(192,0,0,0.5)"/>
<path d="M126.91,277.24L130.01,271.84L133.11,277.24Z" fill="rgba(192,0,0,0.5)"/>
<path d="M119.83,278.16L122.93,272.76L126.03,278.16Z" fill="rgba(192,0,0,0.5)"/>
<path d="M102.43,285.84L105.53,280.44L108.63,285.84Z" fill="rgba(192,0,0,0.5)"/>
<path d="M119.31,280.91L122.41,275.51L125.51,280.91Z" fill="rgba(192,0,0,0.5)"/>
<path d="M101.53,293.38L104.63,287.98L107.73,293.38Z" fill="rgba(192,0,0,0.5)"/>
<path d="M149.73,271.99L152.83,266.59L155.93,271.99Z" fill="rgba(192,0,0,0.5)"/>
<path d="M104.95,284.68L108.05,279.28L111.15,284.68Z" fill="rgba(192,0,0,0.5)"/>
<path d="M123.28,283.49L126.38,278.09L129.48,283.49Z" fill="rgba(192,0,0,0.5)"/>
<path d="M161.16,268.08L164.26,262.68L167.36,268.08Z" fill="rgba(192,0,0,0.5)"/>
<path d="M122.21,282.54L125.31,277.14L128.41,282.54Z" fill="rgba(192,0,0,0.5)"/>
<path d="M141.85,274.62L144.95,269.22L148.05,274.62Z" fill="rgba(192,0,0,0.5)"/>
<path d="M129.60,285.37L132.70,279.97L135.80,285.37Z" fill="rgba(192,0,0,0.5)"/>
<path d="M127.15,278.78L130.25,273.38L133.35,278.78Z" fill="rgba(192,0,0,0.5)"/>
<path d="M164.51,264.28L167.61,258.88L170.71,264.28Z" fill="rgba(192,0,0,0.5)"/>
<path d="M112.80,286.66L115.90,281.26L119.00,286.66Z" fill="rgba(192,0,0,0.5)"/>
<path d="M104.56,287.35L107.66,281.95L110.76,287.35Z" fill="rgba(192,0,0,0.5)"/>
<path d="M116.35,289.98L119.45,284.58L122.55,289.98Z" fill="rgba(192,0,0,0.5)"/>
<path d="M111.87,284.69L114.97,279.29L118.07,284.69Z" fill="rgba(192,0,0,0.5)"/>
<path d="M165.42,266.30L168.52,260.90L171.62,266.30Z" fill="rgba(192,0,0,0.5)"/>
<path d="M128.33,270.50L131.43,265.10L134.53,270.50Z" fill="rgba(192,0,0,0.5)"/>
<path d="M128.09,280.11L131.19,274.71L134.29,280.11Z" fill="rgba(192,0,0,0.5)"/>
<path d="M100.09,294.36L103.19,288.96L106.29,294.36Z" fill="rgba(192,0,0,0.5)"/>
<path d="M112.16,279.04L115.26,273.64L118.36,279.04Z" fill="rgba(192,0,0,0.5)"/>
<path d="M131.89,278.64L134.99,273.24L138.09,278.64Z" fill="rgba(192,0,0,0.5)"/>
<path d="M112.67,290.01L115.77,284.61L118.87,290.01Z" fill="rgba(192,0,0,0.5)"/>
<path d="M123.11,277.64L126.21,272.24L129.31,277.64Z" fill="rgba(192,0,0,0.5)"/>
<path d="M135.41,282.89L138.51,277.49L141.61,282.89Z" fill="rgba(192,0,0,0.5)"/>
<path d="M127.62,285.32L130.72,279.92L133.82,285.32Z" fill="rgba(192,0,0,0.5)"/>
<path d="M98.95,293.17L102.05,287.77L105.15,293.17Z" fill="rgba(192,0,0,0.5)"/>
<path d="M157.73,270.93L160.83,265.53L163.93,270.93Z" fill="rgba(192,0,0,0.5)"/>
<path d="M147.56,273.08L150.66,267.68L153.76,273.08Z" fill="rgba(192,0,0,0.5)"/>
<path d="M160.84,271.21L163.94,265.81L167.04,271.21Z" fill="rgba(192,0,0,0.5)"/>
<path d="M112.72,287.22L115.82,281.82L118.92,287.22Z" fill="rgba(192,0,0,0.5)"/>
<path d="M111.52,285.85L114.62,280.45L117.72,285.85Z" fill="rgba(192,0,0,0.5)"/>
<path d="M99.87,294.50L102.97,289.10L106.07,294.50Z" fill="rgba(192,0,0,0.5)"/>
<path d="M135.16,280.31L138.26,274.91L141.36,280.31Z" fill="rgba(192,0,0,0.5)"/>
<path d="M102.99,293.57L106.09,288.17L109.19,293.57Z" fill="rgba(192,0,0,0.5)"/>
<path d="M116.90,296.31L120.00,290.91L123.10,296.31Z" fill="rgba(192,0,0,0.5)"/>
<path d="M94.85,296.24L97.95,290.84L101.05,296.24Z" fill="rgba(192,0,0,0.5)"/>
<path d="M109.69,285.78L112.79,280.38L115.89,285.78Z" fill="rgba(192,0,0,0.5)"/>
<path d="M108.75,285.51L111.85,280.11L114.95,285.51Z" fill="rgba(192,0,0,0.5)"/>
<path d="M129.86,282.95L132.96,277.55L136.06,282.95Z" fill="rgba(192,0,0,0.5)"/>
<path d="M133.24,279.91L136.34,274.51L139.44,279.91Z" fill="rgba(192,0,0,0.5)"/>
<path d="M150.82,272.50L153.92,267.10L157.02,272.50Z" fill="rgba(192,0,0,0.5)"/>
<path d="M108.02,287.07L111.12,281.67L114.22,287.07Z" fill="rgba(192,0,0,0.5)"/>
<path d="M131.01,280.81L134.11,275.41L137.21,280.81Z" fill="rgba(192,0,0,0.5)"/>
<line x1="68.28" y1="298.69" x2="334.09" y2="210.28" stroke="#EE8A4A" stroke-width="1.1" stroke-dasharray="1.2,1.3"/>
<circle cx="68.50" cy="300.70" r="2.6" fill="#5B9BD5"/>
<circle cx="75.40" cy="298.50" r="2.6" fill="#5B9BD5"/>
<circle cx="81.10" cy="296.80" r="2.6" fill="#5B9BD5"/>
<circle cx="84.40" cy="295.50" r="2.6" fill="#5B9BD5"/>
<circle cx="86.50" cy="294.60" r="2.6" fill="#5B9BD5"/>
<circle cx="89.30" cy="293.60" r="2.6" fill="#5B9BD5"/>
<circle cx="95.00" cy="292.00" r="2.6" fill="#5B9BD5"/>
<circle cx="98.20" cy="291.00" r="2.6" fill="#5B9BD5"/>
<circle cx="184.30" cy="257.60" r="2.6" fill="#5B9BD5"/>
<circle cx="188.00" cy="256.80" r="2.6" fill="#5B9BD5"/>
<circle cx="191.60" cy="256.00" r="2.6" fill="#5B9BD5"/>
<circle cx="194.00" cy="254.40" r="2.6" fill="#5B9BD5"/>
<circle cx="197.00" cy="253.60" r="2.6" fill="#5B9BD5"/>
<circle cx="200.00" cy="252.40" r="2.6" fill="#5B9BD5"/>
<circle cx="203.80" cy="251.10" r="2.6" fill="#5B9BD5"/>
<circle cx="210.30" cy="247.90" r="2.6" fill="#5B9BD5"/>
<circle cx="213.00" cy="247.00" r="2.6" fill="#5B9BD5"/>
<circle cx="215.00" cy="246.30" r="2.6" fill="#5B9BD5"/>
<circle cx="218.00" cy="245.50" r="2.6" fill="#5B9BD5"/>
<circle cx="221.00" cy="244.80" r="2.6" fill="#5B9BD5"/>
<circle cx="244.70" cy="236.10" r="2.6" fill="#5B9BD5"/>
<circle cx="250.00" cy="234.60" r="2.6" fill="#5B9BD5"/>
<circle cx="272.70" cy="226.00" r="2.6" fill="#5B9BD5"/>
<circle cx="287.70" cy="220.30" r="2.6" fill="#5B9BD5"/>
<circle cx="295.50" cy="217.50" r="2.6" fill="#5B9BD5"/>
<circle cx="319.00" cy="209.00" r="2.6" fill="#5B9BD5"/>
<circle cx="332.90" cy="204.20" r="2.6" fill="#5B9BD5"/>
<circle cx="97.88" cy="290.43" r="2.6" fill="#5B9BD5"/>
<circle cx="99.00" cy="289.79" r="2.6" fill="#5B9BD5"/>
<circle cx="100.27" cy="288.63" r="2.6" fill="#5B9BD5"/>
<circle cx="101.29" cy="288.71" r="2.6" fill="#5B9BD5"/>
<circle cx="102.45" cy="288.82" r="2.6" fill="#5B9BD5"/>
<circle cx="103.30" cy="288.43" r="2.6" fill="#5B9BD5"/>
<circle cx="104.62" cy="288.02" r="2.6" fill="#5B9BD5"/>
<circle cx="106.03" cy="287.35" r="2.6" fill="#5B9BD5"/>
<circle cx="106.89" cy="286.70" r="2.6" fill="#5B9BD5"/>
<circle cx="107.42" cy="286.72" r="2.6" fill="#5B9BD5"/>
<circle cx="108.10" cy="286.49" r="2.6" fill="#5B9BD5"/>
<circle cx="109.74" cy="286.22" r="2.6" fill="#5B9BD5"/>
<circle cx="111.19" cy="284.44" r="2.6" fill="#5B9BD5"/>
<circle cx="112.89" cy="284.44" r="2.6" fill="#5B9BD5"/>
<circle cx="113.46" cy="284.24" r="2.6" fill="#5B9BD5"/>
<circle cx="114.55" cy="284.32" r="2.6" fill="#5B9BD5"/>
<circle cx="116.30" cy="283.48" r="2.6" fill="#5B9BD5"/>
<circle cx="117.99" cy="282.47" r="2.6" fill="#5B9BD5"/>
<circle cx="119.40" cy="283.24" r="2.6" fill="#5B9BD5"/>
<circle cx="120.94" cy="281.61" r="2.6" fill="#5B9BD5"/>
<circle cx="122.20" cy="280.99" r="2.6" fill="#5B9BD5"/>
<circle cx="123.27" cy="280.63" r="2.6" fill="#5B9BD5"/>
<circle cx="124.01" cy="280.29" r="2.6" fill="#5B9BD5"/>
<circle cx="124.64" cy="280.30" r="2.6" fill="#5B9BD5"/>
<circle cx="125.69" cy="280.22" r="2.6" fill="#5B9BD5"/>
<circle cx="126.51" cy="280.06" r="2.6" fill="#5B9BD5"/>
<circle cx="127.74" cy="279.79" r="2.6" fill="#5B9BD5"/>
<circle cx="128.91" cy="278.60" r="2.6" fill="#5B9BD5"/>
<circle cx="130.68" cy="277.71" r="2.6" fill="#5B9BD5"/>
<circle cx="131.46" cy="278.09" r="2.6" fill="#5B9BD5"/>
<circle cx="132.08" cy="277.26" r="2.6" fill="#5B9BD5"/>
<circle cx="133.37" cy="277.59" r="2.6" fill="#5B9BD5"/>
<circle cx="134.31" cy="276.96" r="2.6" fill="#5B9BD5"/>
<circle cx="135.52" cy="275.96" r="2.6" fill="#5B9BD5"/>
<circle cx="136.77" cy="276.36" r="2.6" fill="#5B9BD5"/>
<circle cx="137.49" cy="276.13" r="2.6" fill="#5B9BD5"/>
<circle cx="138.29" cy="274.71" r="2.6" fill="#5B9BD5"/>
<circle cx="139.90" cy="274.93" r="2.6" fill="#5B9BD5"/>
<circle cx="140.43" cy="274.41" r="2.6" fill="#5B9BD5"/>
<circle cx="141.46" cy="274.18" r="2.6" fill="#5B9BD5"/>
<circle cx="142.74" cy="273.48" r="2.6" fill="#5B9BD5"/>
<circle cx="143.31" cy="273.35" r="2.6" fill="#5B9BD5"/>
<circle cx="143.90" cy="273.56" r="2.6" fill="#5B9BD5"/>
<circle cx="145.19" cy="273.27" r="2.6" fill="#5B9BD5"/>
<circle cx="146.15" cy="272.77" r="2.6" fill="#5B9BD5"/>
<circle cx="147.07" cy="272.18" r="2.6" fill="#5B9BD5"/>
<circle cx="148.52" cy="271.62" r="2.6" fill="#5B9BD5"/>
<circle cx="149.15" cy="271.56" r="2.6" fill="#5B9BD5"/>
<circle cx="150.67" cy="271.29" r="2.6" fill="#5B9BD5"/>
<circle cx="151.42" cy="271.01" r="2.6" fill="#5B9BD5"/>
<circle cx="152.45" cy="270.27" r="2.6" fill="#5B9BD5"/>
<circle cx="153.40" cy="269.30" r="2.6" fill="#5B9BD5"/>
<circle cx="154.73" cy="269.12" r="2.6" fill="#5B9BD5"/>
<circle cx="155.92" cy="268.99" r="2.6" fill="#5B9BD5"/>
<circle cx="157.36" cy="268.14" r="2.6" fill="#5B9BD5"/>
<circle cx="158.32" cy="268.26" r="2.6" fill="#5B9BD5"/>
<circle cx="158.92" cy="267.78" r="2.6" fill="#5B9BD5"/>
<circle cx="159.50" cy="267.75" r="2.6" fill="#5B9BD5"/>
<circle cx="160.71" cy="267.71" r="2.6" fill="#5B9BD5"/>
<circle cx="161.57" cy="266.85" r="2.6" fill="#5B9BD5"/>
<circle cx="163.05" cy="266.16" r="2.6" fill="#5B9BD5"/>
<circle cx="164.39" cy="265.76" r="2.6" fill="#5B9BD5"/>
<circle cx="164.97" cy="265.83" r="2.6" fill="#5B9BD5"/>
<circle cx="166.35" cy="264.66" r="2.6" fill="#5B9BD5"/>
<circle cx="167.19" cy="264.65" r="2.6" fill="#5B9BD5"/>
<circle cx="168.61" cy="264.08" r="2.6" fill="#5B9BD5"/>
<circle cx="169.56" cy="263.59" r="2.6" fill="#5B9BD5"/>
<circle cx="170.77" cy="263.18" r="2.6" fill="#5B9BD5"/>
<circle cx="172.44" cy="262.25" r="2.6" fill="#5B9BD5"/>
<circle cx="173.49" cy="262.80" r="2.6" fill="#5B9BD5"/>
<circle cx="175.01" cy="262.07" r="2.6" fill="#5B9BD5"/>
<circle cx="176.00" cy="261.34" r="2.6" fill="#5B9BD5"/>
<circle cx="177.69" cy="260.80" r="2.6" fill="#5B9BD5"/>
<circle cx="178.64" cy="260.80" r="2.6" fill="#5B9BD5"/>
<circle cx="179.59" cy="260.51" r="2.6" fill="#5B9BD5"/>
<circle cx="180.57" cy="259.69" r="2.6" fill="#5B9BD5"/>
<line x1="68.28" y1="301.09" x2="340.60" y2="201.30" stroke="#5A92CC" stroke-width="1.1" stroke-dasharray="1.2,1.3"/>
<text x="205.55" y="202.32" font-family="Liberation Sans" font-size="11.20" fill="#3D7FC2" textLength="92.36" lengthAdjust="spacingAndGlyphs" >y = 0.9989x + 0.0171</text>
<text x="225.40" y="215.62" font-family="Liberation Sans" font-size="11.20" fill="#3D7FC2" textLength="52.43" lengthAdjust="spacingAndGlyphs" >R² = 0.9998</text>
<text x="249.85" y="253.02" font-family="Liberation Sans" font-size="11.20" fill="#BC3F3B" textLength="92.46" lengthAdjust="spacingAndGlyphs" >y = 0.9067x + 1.4887</text>
<text x="270.00" y="265.72" font-family="Liberation Sans" font-size="11.20" fill="#BC3F3B" textLength="52.54" lengthAdjust="spacingAndGlyphs" >R² = 0.9067</text>
</g>
</svg>
</body></html>
